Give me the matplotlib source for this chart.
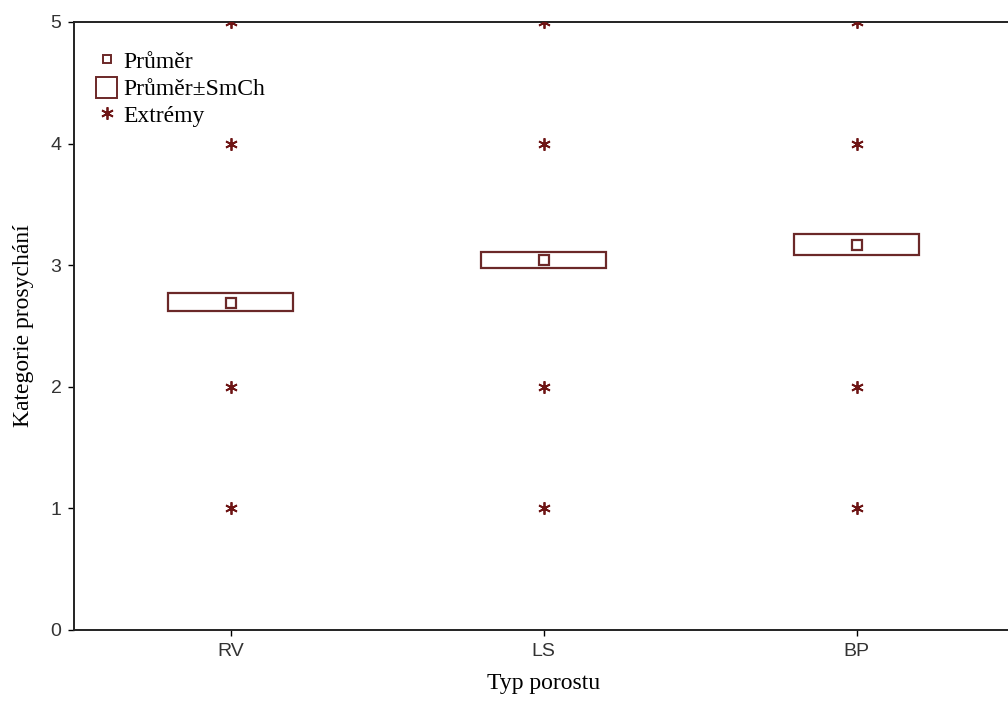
import matplotlib
matplotlib.use('Agg')
import matplotlib.pyplot as plt
from matplotlib.patches import Rectangle
from matplotlib.lines import Line2D

groups = ['RV', 'LS', 'BP']
means = [2.69, 3.04, 3.17]
se_low = [2.62, 2.98, 3.08]
se_high = [2.77, 3.11, 3.26]
extremes = [[1, 2, 4, 5], [1, 2, 4, 5], [1, 2, 4, 5]]

col = '#6b2828'
star_col = '#6e1515'
star = (6, 2, 0)

fig = plt.figure(figsize=(10.08, 7.07), dpi=100)
ax = fig.add_axes([74 / 1008, 1 - 630 / 707, 939 / 1008, 608 / 707])

x = list(range(1, len(groups) + 1))
for i, xi in enumerate(x):
    ax.add_patch(Rectangle((xi - 0.2, se_low[i]), 0.4, se_high[i] - se_low[i],
                           facecolor='white', edgecolor=col, lw=1.6, zorder=2))
    ax.plot([xi] * len(extremes[i]), extremes[i], ls='none', marker=star,
            ms=9, mew=1.3, color=star_col, zorder=3)
ax.plot(x, means, ls='none', marker='s', ms=6.5, mfc='white', mec=col, mew=1.6, zorder=4)

ax.set_xlim(0.5, 3.5)
ax.set_ylim(0, 5)
ax.set_xticks(x)
ax.set_xticklabels(groups)
ax.set_yticks([0, 1, 2, 3, 4, 5])
for lab in ax.get_xticklabels() + ax.get_yticklabels():
    lab.set_family('Liberation Sans')
    lab.set_fontsize(14)
    lab.set_color('#333333')
ax.tick_params(direction='out', length=4, width=1, pad=5)
ax.spines['right'].set_visible(False)
for s in ['left', 'bottom', 'top']:
    ax.spines[s].set_linewidth(1.4)
    ax.spines[s].set_color('#222222')

ax.set_xlabel('Typ porostu', family='Liberation Serif', fontsize=17, labelpad=10)
ax.set_ylabel('Kategorie prosychání', family='Liberation Serif', fontsize=17, labelpad=12)

handles = [
    Line2D([], [], ls='none', marker='s', ms=6, mfc='white', mec=col, mew=1.4),
    Rectangle((0, 0), 1, 1, facecolor='white', edgecolor=col, lw=1.4),
    Line2D([], [], ls='none', marker=star, ms=9, mew=1.3, color=star_col),
]
ax.legend(handles, ['Průměr', 'Průměr±SmCh', 'Extrémy'], loc='upper left',
          bbox_to_anchor=(22 / 939, 0.955), frameon=False,
          prop={'family': 'Liberation Serif', 'size': 17},
          handlelength=0.9, handleheight=1.0, handletextpad=0.25, labelspacing=0.15,
          borderaxespad=0, borderpad=0)

fig.savefig('out.png', dpi=100)
